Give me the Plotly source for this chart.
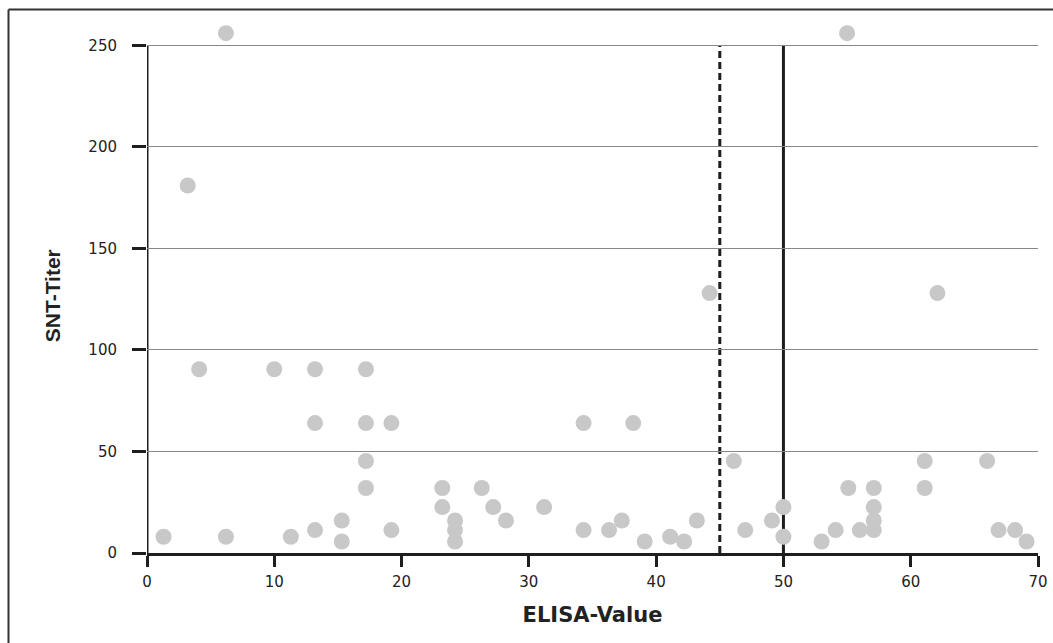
import plotly.graph_objects as go

# ELISA value vs SNT titer
elisa = [1.3, 3.2, 4.1, 6.2, 6.2, 10.0, 11.3, 13.2, 13.2, 13.2,
         15.3, 15.3, 17.2, 17.2, 17.2, 17.2, 19.2, 19.2, 23.2, 23.2,
         24.2, 24.2, 24.2, 26.3, 27.2, 28.2, 31.2, 34.3, 34.3, 36.3,
         37.3, 38.2, 39.1, 41.1, 42.2, 43.2, 44.2, 46.1, 47.0, 49.1,
         50.0, 50.0, 53.0, 54.1, 55.0, 55.1, 56.0, 57.1, 57.1, 57.1,
         57.1, 61.1, 61.1, 62.1, 66.0, 66.9, 68.2, 69.1]
snt = [8, 181, 90.5, 256, 8, 90.5, 8, 90.5, 64, 11.3,
       16, 5.66, 90.5, 64, 45.3, 32, 64, 11.3, 32, 22.6,
       16, 11.3, 5.66, 32, 22.6, 16, 22.6, 64, 11.3, 11.3,
       16, 64, 5.66, 8, 5.66, 16, 128, 45.3, 11.3, 16,
       22.6, 8, 5.66, 11.3, 256, 32, 11.3, 32, 22.6, 16,
       11.3, 45.3, 32, 128, 45.3, 11.3, 11.3, 5.66]

x_ticks = [0, 10, 20, 30, 40, 50, 60, 70]
y_ticks = [0, 50, 100, 150, 200, 250]
y_axis_top = 250
y_view_top = 262
cutoff_dashed = 45
cutoff_solid = 50

W, H = 1053, 643
px_per_y = 508 / 250
L, R, B = 147, 15, 90
T = H - B - px_per_y * y_view_top
pw, ph = W - L - R, H - T - B

fig = go.Figure()
fig.add_trace(go.Scatter(
    x=elisa, y=snt, mode="markers",
    marker=dict(size=16, color="#c8c8c8", line=dict(width=0)),
    cliponaxis=False, showlegend=False, hoverinfo="x+y"))

dark = "#1e1e1e"
fig.add_shape(type="line", xref="x", yref="y", x0=cutoff_dashed, x1=cutoff_dashed,
              y0=0, y1=y_axis_top, line=dict(color=dark, width=3, dash="7px,4px"), layer="below")
fig.add_shape(type="line", xref="x", yref="y", x0=cutoff_solid, x1=cutoff_solid,
              y0=0, y1=y_axis_top, line=dict(color=dark, width=3), layer="below")
# y axis line (only up to 250)
fig.add_shape(type="line", xref="x", yref="y", x0=0, x1=0,
              y0=0, y1=y_axis_top, line=dict(color=dark, width=3), layer="below")

# outer frame (left and top edges visible)
bx = (8.5 - L) / pw
by = (H - B - 9) / ph
fig.add_shape(type="line", xref="paper", yref="paper", x0=bx, x1=bx, y0=by, y1=-0.3,
              line=dict(color="#333", width=2))
fig.add_shape(type="line", xref="paper", yref="paper", x0=bx, x1=1.05, y0=by, y1=by,
              line=dict(color="#333", width=2))

# y axis title as annotation centred on the 0..250 span
fig.add_annotation(text="<b>SNT-Titer</b>", textangle=-90, showarrow=False,
                   xref="paper", x=(52 - L) / pw, xanchor="center",
                   yref="y", y=(553 - 296) / px_per_y, yanchor="middle",
                   font=dict(family="Liberation Sans", size=21, color="#222"))

tick_font = dict(family="DejaVu Sans", size=15, color="#222")
fig.update_layout(
    width=W, height=H,
    margin=dict(l=L, r=R, t=T, b=B),
    paper_bgcolor="white", plot_bgcolor="white",
    xaxis=dict(range=[0, 70], tickvals=x_ticks, showgrid=False, zeroline=False,
               showline=True, linecolor=dark, linewidth=3, automargin=False,
               ticks="outside", ticklen=11, tickwidth=3, tickcolor=dark,
               tickfont=tick_font, ticklabelstandoff=2,
               title=dict(text="<b>ELISA-Value</b>",
                          font=dict(family="DejaVu Sans", size=21, color="#222"),
                          standoff=18)),
    yaxis=dict(range=[0, y_view_top], tickvals=y_ticks, showgrid=True, gridcolor="#888",
               gridwidth=1, zeroline=False, showline=False, automargin=False,
               ticks="outside", ticklen=14, tickwidth=3, tickcolor=dark,
               tickfont=tick_font, ticklabelstandoff=12),
)

fig.write_html("out.html", config={"displayModeBar": False},
               post_script="document.body.style.margin='0';")
